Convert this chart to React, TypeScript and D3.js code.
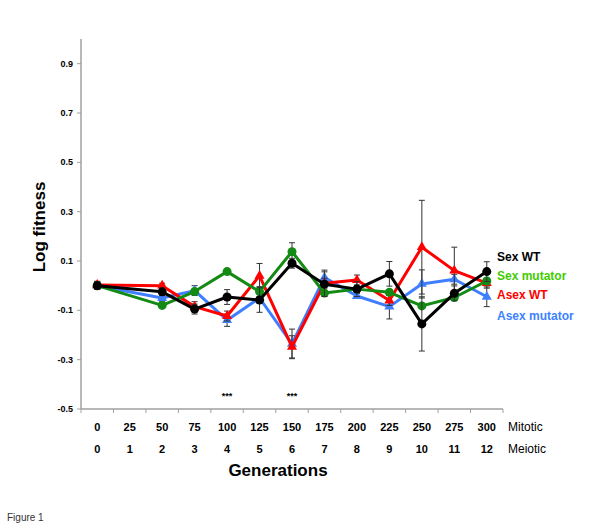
import React from "react";
import * as d3 from "d3";

const mitotic = ["0", "25", "50", "75", "100", "125", "150", "175", "200", "225", "250", "275", "300"];
const meiotic = ["0", "1", "2", "3", "4", "5", "6", "7", "8", "9", "10", "11", "12"];
const yTicks = [-0.5, -0.3, -0.1, 0.1, 0.3, 0.5, 0.7, 0.9];
const yTickLabels = ["-0.5", "-0.3", "-0.1", "0.1", "0.3", "0.5", "0.7", "0.9"];

const sexWT = [0.0, null, -0.025, -0.095, -0.046, -0.058, 0.091, 0.006, -0.014, 0.048, -0.155, -0.031, 0.057];
const sexMut = [0.0, null, -0.08, -0.024, 0.057, -0.024, 0.138, -0.03, -0.014, -0.027, -0.082, -0.048, 0.019];
const asexWT = [0.003, null, 0.0, -0.085, -0.123, 0.04, -0.248, 0.01, 0.023, -0.06, 0.156, 0.061, 0.01];
const asexMut = [0.0, null, -0.05, -0.02, -0.14, -0.05, -0.236, 0.033, -0.042, -0.085, 0.007, 0.026, -0.045];

const sexWTErr = [0.015, null, 0.015, 0.02, 0.03, 0.05, 0.02, 0.05, 0.03, 0.05, 0.11, 0.03, 0.04];
const sexMutErr = [0.015, null, 0.01, 0.01, 0.01, 0.02, 0.036, 0.01, 0.01, 0.01, 0.01, 0.01, 0.01];
const asexWTErr = [0.015, null, 0.01, 0.02, 0.02, 0.05, 0.045, 0.02, 0.02, 0.02, 0.19, 0.095, 0.02];
const asexMutErr = [0.015, null, 0.015, 0.02, 0.025, 0.02, 0.06, 0.03, 0.01, 0.05, 0.057, 0.02, 0.04];

const seriesNames = ["Sex WT", "Sex mutator", "Asex WT", "Asex mutator"];
const starLabels = [{ i: 4, t: "***" }, { i: 6, t: "***" }];

const FONT = "'Liberation Sans', Arial, sans-serif";

export default function App() {
  const x = d3.scaleLinear().domain([-0.5, 12.5]).range([81, 503]);
  const y = d3.scaleLinear().domain([-0.5, 1.0]).range([409, 39]);

  const series = [
    { name: seriesNames[3], vals: asexMut, err: asexMutErr, color: "#3f7fff", text: "#3d82ff", marker: "tri", ly: 316 },
    { name: seriesNames[2], vals: asexWT, err: asexWTErr, color: "#ff0000", text: "#ff0000", marker: "tri", ly: 295 },
    { name: seriesNames[1], vals: sexMut, err: sexMutErr, color: "#138a13", text: "#3fcc00", marker: "circ", ly: 276 },
    { name: seriesNames[0], vals: sexWT, err: sexWTErr, color: "#000000", text: "#000000", marker: "circ", ly: 257 },
  ];

  const line = d3
    .line<[number, number | null]>()
    .defined((d) => d[1] !== null)
    .x((d) => x(d[0]))
    .y((d) => y(d[1] as number));

  const tri = d3.symbol().type(d3.symbolTriangle).size(44);

  const boundaries = d3.range(0, 14).map((k) => k - 0.5);

  return (
    <svg
      width={600}
      height={527}
      style={{ position: "absolute", left: 0, top: 0, background: "#fff" }}
      fontFamily={FONT}
    >
      <rect width={600} height={527} fill="#fff" />
      {/* Axes */}
      <line x1={81} x2={81} y1={39} y2={409} stroke="#a0a0a0" strokeWidth={1.5} />
      <line x1={81} x2={503} y1={409} y2={409} stroke="#a0a0a0" strokeWidth={1.5} />
      {yTicks.map((t, i) => (
        <g key={"yt" + i}>
          <line x1={77} x2={81} y1={y(t)} y2={y(t)} stroke="#a0a0a0" strokeWidth={1} />
          <text x={73} y={y(t)} dy="0.35em" textAnchor="end" fontSize={9} fontWeight="bold" fill="#000">
            {yTickLabels[i]}
          </text>
        </g>
      ))}
      {boundaries.map((b, i) => (
        <line key={"xb" + i} x1={x(b)} x2={x(b)} y1={409} y2={413} stroke="#a0a0a0" strokeWidth={1} />
      ))}
      {mitotic.map((m, i) => (
        <text key={"mi" + i} x={x(i)} y={427} dy="0.35em" textAnchor="middle" fontSize={11} fontWeight="bold" fill="#000">
          {m}
        </text>
      ))}
      {meiotic.map((m, i) => (
        <text key={"me" + i} x={x(i)} y={449} dy="0.35em" textAnchor="middle" fontSize={11} fontWeight="bold" fill="#000">
          {m}
        </text>
      ))}
      <text x={508} y={427} dy="0.35em" fontSize={12} fill="#000">Mitotic</text>
      <text x={508} y={449} dy="0.35em" fontSize={12} fill="#000">Meiotic</text>
      <text x={278} y={470} dy="0.35em" textAnchor="middle" fontSize={17} fontWeight="bold" fill="#000">
        Generations
      </text>
      <text
        transform={`translate(39,227) rotate(-90)`}
        dy="0.35em"
        textAnchor="middle"
        fontSize={17}
        fontWeight="bold"
        fill="#000"
      >
        Log fitness
      </text>
      {starLabels.map((s, i) => (
        <text key={"st" + i} x={x(s.i)} y={396} dy="0.35em" textAnchor="middle" fontSize={9} fontWeight="bold" fill="#000">
          {s.t}
        </text>
      ))}

      {/* Series */}
      {series.map((s, si) => {
        const pts: [number, number | null][] = s.vals.map((v, i) => [i, v]);
        const linePts = pts.filter((p) => p[1] !== null);
        return (
          <g key={"s" + si}>
            {s.vals.map((v, i) =>
              v === null || s.err[i] === null ? null : (
                <g key={"e" + i} stroke="#333" strokeWidth={1}>
                  <line x1={x(i)} x2={x(i)} y1={y(v + (s.err[i] as number))} y2={y(v - (s.err[i] as number))} />
                  <line x1={x(i) - 3} x2={x(i) + 3} y1={y(v + (s.err[i] as number))} y2={y(v + (s.err[i] as number))} />
                  <line x1={x(i) - 3} x2={x(i) + 3} y1={y(v - (s.err[i] as number))} y2={y(v - (s.err[i] as number))} />
                </g>
              )
            )}
            <path d={line(linePts) || ""} fill="none" stroke={s.color} strokeWidth={3} strokeLinejoin="round" />
            {s.vals.map((v, i) =>
              v === null ? null : s.marker === "circ" ? (
                <circle key={"m" + i} cx={x(i)} cy={y(v)} r={4.5} fill={s.color} />
              ) : (
                <path key={"m" + i} d={tri() || ""} transform={`translate(${x(i)},${y(v)})`} fill={s.color} />
              )
            )}
          </g>
        );
      })}

      {/* Legend labels */}
      {series.map((s, si) => (
        <text key={"l" + si} x={497} y={s.ly} dy="0.35em" fontSize={12} fontWeight="bold" fill={s.text}>
          {s.name}
        </text>
      ))}

      <text x={7} y={521} fontSize={10} fill="#333">Figure 1</text>
    </svg>
  );
}
